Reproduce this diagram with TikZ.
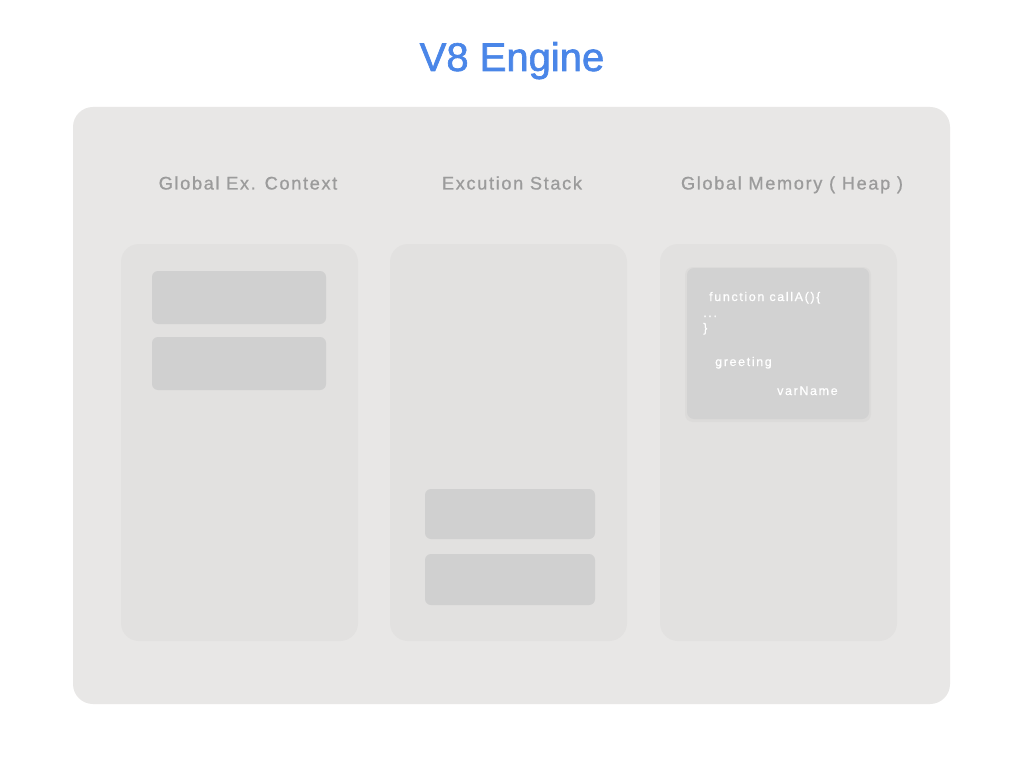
\documentclass[tikz,border=0pt]{standalone}
\usepackage{fontspec}
\setmainfont{Liberation Sans}
\newfontfamily\titlefont[FakeBold=1.6]{Liberation Sans}
\newfontfamily\headfont[LetterSpace=9,FakeBold=0.8]{Liberation Sans}
\newfontfamily\codefont[LetterSpace=13,FakeBold=0.8]{Liberation Sans}
\begin{document}
\begin{tikzpicture}[x=1pt,y=-1pt]
\definecolor{bgpanel}{HTML}{E8E7E6}
\definecolor{colpanel}{HTML}{E2E1E0}
\definecolor{slot}{HTML}{D0D0D0}
\definecolor{card}{HTML}{D2D2D2}
\definecolor{cardshadow}{HTML}{DCDBDA}
\definecolor{headgray}{HTML}{9B9B9B}
\definecolor{titleblue}{HTML}{4A86E8}
\tikzset{
  outerpanel/.style={fill=bgpanel, draw=none, rounded corners=20pt},
  column/.style={fill=colpanel, draw=none, rounded corners=18pt},
  slotbox/.style={fill=slot, draw=none, rounded corners=6pt},
  heading/.style={text=headgray, font=\headfont\fontsize{18.2}{20}\selectfont, anchor=base, inner sep=0pt},
  codetext/.style={text=white, font=\codefont\fontsize{12.5}{14}\selectfont, anchor=base west, inner sep=0pt},
}
\useasboundingbox (0,0) rectangle (1024,759);
\fill[white] (0,0) rectangle (1024,759);
\node[text=titleblue, font=\titlefont\fontsize{40}{44}\selectfont, anchor=base, inner sep=0pt] (title) at (512,71) {V8 Engine};
\fill[outerpanel] (73,107) rectangle (950,704);
\node[heading] (h1) at (248,189.5) {Global Ex. Context};
\node[heading] (h2) at (512,189.5) {Excution Stack};
\node[heading] (h3) at (792,189.5) {Global Memory ( Heap )};
\fill[column] (121,244) rectangle (358,641);
\fill[column] (390,244) rectangle (627,641);
\fill[column] (660,244) rectangle (897,641);
\fill[slotbox] (152,271) rectangle (326,324);
\fill[slotbox] (152,337) rectangle (326,390);
\fill[slotbox] (425,489) rectangle (595,539);
\fill[slotbox] (425,554) rectangle (595,605);
\fill[cardshadow, rounded corners=8pt] (685,267) rectangle (871,422);
\fill[card, rounded corners=7pt] (687,268) rectangle (869,419);
\node[codetext] (c1) at (709,301) {function callA()\{};
\node[codetext] (c2) at (703,317) {...};
\node[codetext] (c3) at (703,332) {\}};
\node[codetext] (c4) at (715,366) {greeting};
\node[codetext] (c5) at (777,395) {varName};
\end{tikzpicture}
\end{document}
